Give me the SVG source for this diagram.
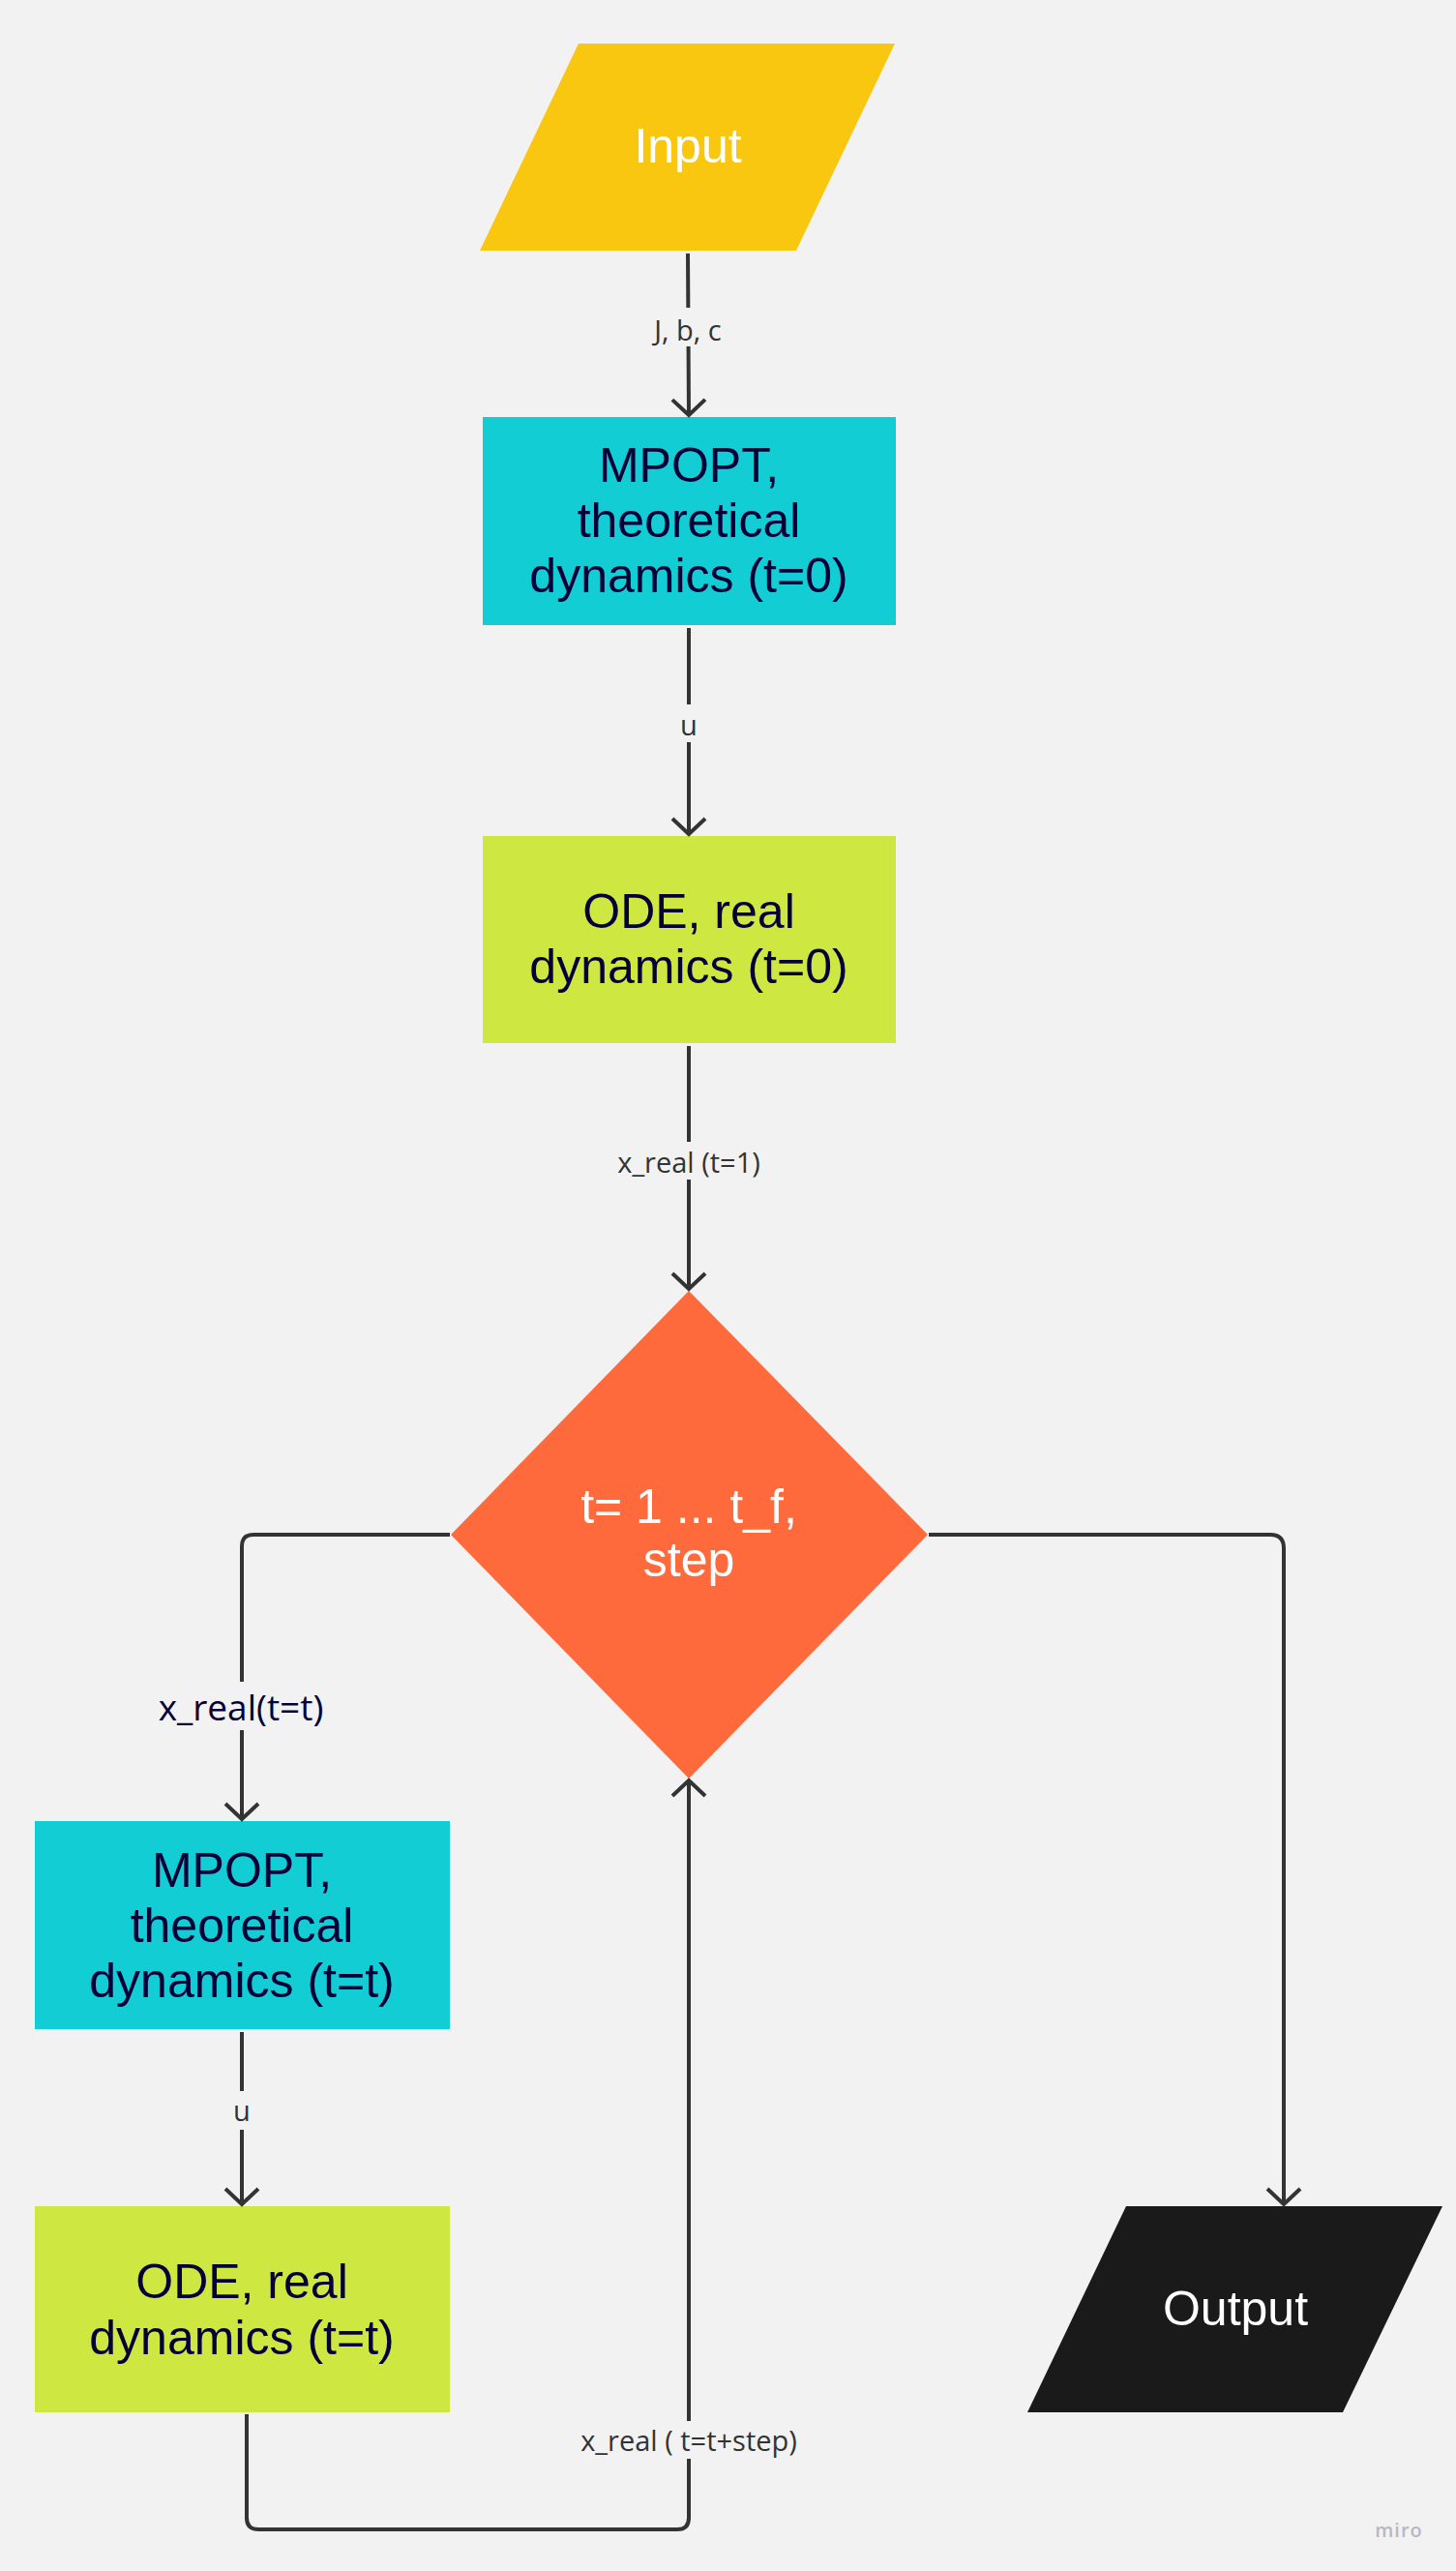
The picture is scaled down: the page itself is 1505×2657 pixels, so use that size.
<svg xmlns="http://www.w3.org/2000/svg" width="1505" height="2657" viewBox="0 0 1505 2657">
<style>
.node{font-family:"Liberation Sans",Arial,sans-serif;font-size:50px;text-anchor:middle}
.dark{fill:#050038}
.white{fill:#ffffff}
.conn{fill:none;stroke:#333333;stroke-width:4;stroke-linejoin:round}
.lbl{font-family:"Open Sans","Noto Sans",sans-serif;font-size:29px;fill:#333333;text-anchor:middle}
.lblbg{fill:#f2f2f2}
</style>
<defs>
<marker id="arr" markerUnits="userSpaceOnUse" markerWidth="40" markerHeight="40" viewBox="-20 -20 40 40" refX="0" refY="0" orient="auto" overflow="visible">
<path d="M-16,-17 L0,0 L-16,17" fill="none" stroke="#333333" stroke-width="4" stroke-linejoin="miter"/>
</marker>
</defs>
<rect width="1505" height="2657" fill="#f2f2f2"/>

<g id="input">
<polygon points="598,45 925,45 823,259 496,259" fill="#fac710"/>
<text class="node white" x="711" y="168">Input</text>
</g>

<g id="mpopt0">
<rect x="499" y="431" width="427" height="215" fill="#12cdd4"/>
<text class="node dark" x="712" y="498">MPOPT,</text>
<text class="node dark" x="712" y="555">theoretical</text>
<text class="node dark" x="712" y="612">dynamics (t=0)</text>
</g>

<g id="ode0">
<rect x="499" y="864" width="427" height="214" fill="#cee741"/>
<text class="node dark" x="712" y="959">ODE, real</text>
<text class="node dark" x="712" y="1016">dynamics (t=0)</text>
</g>

<g id="loop">
<polygon points="712,1334 959,1586 712,1838 466,1586" fill="#ff6a3d"/>
<text class="node white" x="712" y="1574">t= 1 ... t_f,</text>
<text class="node white" x="712" y="1629">step</text>
</g>

<g id="mpoptt">
<rect x="36" y="1882" width="429" height="215" fill="#12cdd4"/>
<text class="node dark" x="250" y="1950">MPOPT,</text>
<text class="node dark" x="250" y="2007">theoretical</text>
<text class="node dark" x="250" y="2064">dynamics (t=t)</text>
</g>

<g id="odet">
<rect x="36" y="2280" width="429" height="213" fill="#cee741"/>
<text class="node dark" x="250" y="2375">ODE, real</text>
<text class="node dark" x="250" y="2433">dynamics (t=t)</text>
</g>

<g id="output">
<polygon points="1164,2280 1491,2280 1388,2493 1062,2493" fill="#1a1a1a"/>
<text class="node white" x="1277" y="2403">Output</text>
</g>

<g id="connectors">
<path class="conn" d="M711,262 L712,429" marker-end="url(#arr)"/>
<rect class="lblbg" x="668" y="318" width="88" height="40"/>
<text class="lbl" x="711" y="352">J, b, c</text>

<path class="conn" d="M712,649 L712,862" marker-end="url(#arr)"/>
<rect class="lblbg" x="698" y="728" width="28" height="39"/>
<text class="lbl" x="712" y="760">u</text>

<path class="conn" d="M712,1081 L712,1332" marker-end="url(#arr)"/>
<rect class="lblbg" x="630" y="1180" width="164" height="39"/>
<text class="lbl" x="712" y="1212">x_real (t=1)</text>

<path class="conn" d="M465,1586 L262,1586 Q250,1586 250,1598 L250,1880" marker-end="url(#arr)"/>
<rect class="lblbg" x="155" y="1738" width="190" height="50"/>
<text class="lbl" x="249" y="1778" style="font-size:37px;fill:#050038">x_real(t=t)</text>

<path class="conn" d="M250,2100 L250,2278" marker-end="url(#arr)"/>
<rect class="lblbg" x="236" y="2161" width="28" height="40"/>
<text class="lbl" x="250" y="2192">u</text>

<path class="conn" d="M255,2495 L255,2602 Q255,2614 267,2614 L700,2614 Q712,2614 712,2602 L712,1840" marker-end="url(#arr)"/>
<rect class="lblbg" x="590" y="2502" width="244" height="39"/>
<text class="lbl" x="712" y="2533">x_real ( t=t+step)</text>

<path class="conn" d="M960,1586 L1313,1586 Q1327,1586 1327,1600 L1327,2278" marker-end="url(#arr)"/>
</g>

<text x="1446" y="2622" font-family="'Open Sans','Noto Sans',sans-serif" font-size="20" font-weight="600" fill="#b8b8c4" text-anchor="middle" letter-spacing="1">miro</text>
</svg>
